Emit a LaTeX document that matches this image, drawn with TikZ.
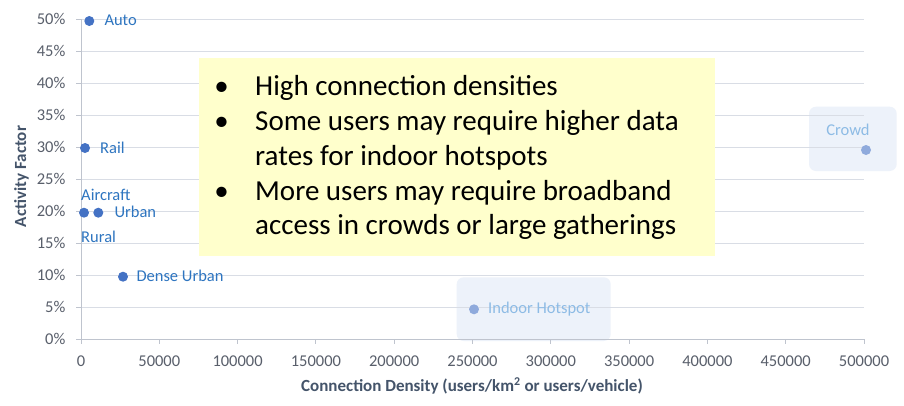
\documentclass[tikz,border=0pt]{standalone}
\usepackage{fontspec}
\setmainfont{Carlito}
\definecolor{gridc}{HTML}{D9DDE5}
\definecolor{axisc}{HTML}{BFC4CE}
\definecolor{tickc}{HTML}{595F6B}
\definecolor{titlec}{HTML}{44546A}
\definecolor{dotc}{HTML}{4472C4}
\definecolor{labc}{HTML}{2E75C0}
\definecolor{ldotc}{HTML}{8FAADC}
\definecolor{llabc}{HTML}{8DBBE5}
\definecolor{hlbg}{HTML}{EDF2FA}
\definecolor{notebg}{HTML}{FFFFCC}
\tikzset{
  gridline/.style={draw=gridc, line width=0.9pt},
  axisline/.style={draw=axisc, line width=1pt},
  ticklab/.style={text=tickc, font=\fontsize{16.5}{19}\selectfont, inner sep=0pt},
  axtitle/.style={text=titlec, font=\fontsize{17}{20}\selectfont\bfseries, inner sep=0pt},
  dot/.style={circle, fill=dotc, inner sep=0pt, minimum size=10pt},
  ldot/.style={circle, fill=ldotc, inner sep=0pt, minimum size=10pt},
  lab/.style={text=labc, font=\fontsize{16.5}{19}\selectfont, inner sep=0pt, anchor=base west},
  llab/.style={text=llabc, font=\fontsize{16.5}{19}\selectfont, inner sep=0pt},
  hlbox/.style={fill=hlbg, rounded corners=7pt},
  notebox/.style={fill=notebg, inner sep=0pt, anchor=north west},
  notetext/.style={text=black, font=\fontsize{29}{35}\selectfont, inner sep=0pt, anchor=base west},
  bullet/.style={text=black, font=\fontsize{29}{35}\selectfont, inner sep=0pt, anchor=base}
}
\begin{document}
\begin{tikzpicture}[x=1pt,y=-1pt]
\useasboundingbox (0,0) rectangle (904,405);
\fill[white] (0,0) rectangle (904,405);
% highlight boxes
\fill[hlbox] (456.7,277.3) rectangle (610.7,341);
\fill[hlbox] (809,106.7) rectangle (896.7,171);
% gridlines
\foreach \i in {1,...,10}
  \draw[gridline] (81,{339.3-32*\i}) -- (864,{339.3-32*\i});
% axes
\draw[axisline] (81,19.3) -- (81,339.3) -- (864,339.3);
\foreach \i in {0,...,10}
  \draw[axisline] (76,{339.3-32*\i}) -- (81,{339.3-32*\i});
\foreach \j in {0,...,10}
  \draw[axisline] ({81+78.3*\j},339.3) -- ({81+78.3*\j},343.8);
% y tick labels
\foreach \i/\p in {0/0,1/5,2/10,3/15,4/20,5/25,6/30,7/35,8/40,9/45,10/50}
  \node[ticklab, anchor=east] (yl\i) at (65.5,{339.3-32*\i}) {\p\%};
% x tick labels
\foreach \j/\v in {0/0,1/50000,2/100000,3/150000,4/200000,5/250000,6/300000,7/350000,8/400000,9/450000,10/500000}
  \node[ticklab, anchor=base] (xl\j) at ({81+78.3*\j},366) {\v};
% axis titles
\node[axtitle, rotate=90] (ytitle) at (21.5,176.5) {Activity Factor};
\node[axtitle, anchor=base] (xtitle) at (472,391.7) {Connection Density (users/km\textsuperscript{2} or users/vehicle)};
% note box
\node[notebox, minimum width=516.7pt, minimum height=198.4pt] (note) at (198.3,57.3) {};
\node[bullet] (b1) at (221.7,95) {•};
\node[notetext] (t1) at (255,95) {High connection densities};
\node[bullet] (b2) at (221.7,130.5) {•};
\node[notetext] (t2) at (255,130.5) {Some users may require higher data};
\node[notetext] (t3) at (255,165.5) {rates for indoor hotspots};
\node[bullet] (b3) at (221.7,200) {•};
\node[notetext] (t4) at (255,200) {More users may require broadband};
\node[notetext] (t5) at (255,234) {access in crowds or large gatherings};
% data points
\node[dot] (auto) at (89.3,21) {};
\node[lab] (autol) at (104.3,25.3) {Auto};
\node[dot] (rail) at (85,148) {};
\node[lab] (raill) at (100,153.7) {Rail};
\node[dot] (rural) at (84,212.7) {};
\node[lab] (aircl) at (81,200.7) {Aircraft};
\node[lab] (rurall) at (81,242.3) {Rural};
\node[dot] (urban) at (98.3,212.7) {};
\node[lab] (urbanl) at (114.3,217.6) {Urban};
\node[dot] (dense) at (123,276.7) {};
\node[lab] (densel) at (136.3,281.7) {Dense Urban};
\node[ldot] (indoor) at (474,309.3) {};
\node[llab, anchor=base west] (indoorl) at (488,313.5) {Indoor Hotspot};
\node[ldot] (crowd) at (866,150) {};
\node[llab, anchor=base] (crowdl) at (848,135) {Crowd};
\end{tikzpicture}
\end{document}
